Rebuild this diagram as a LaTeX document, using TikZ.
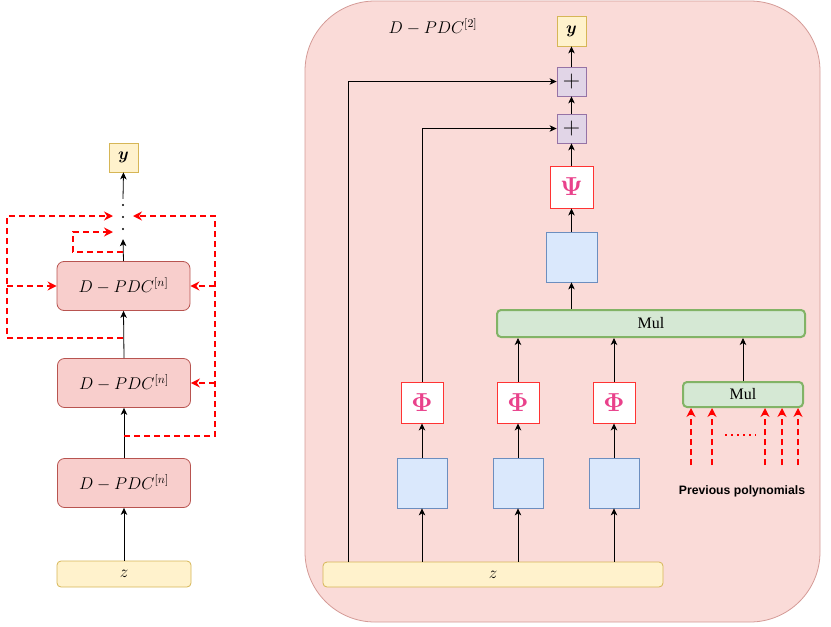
\RequirePackage{fix-cm}
\documentclass[tikz,border=0pt]{standalone}
\usepackage{fontspec}
\usepackage{bm}
\newfontfamily\lsans{Liberation Sans}
\newfontfamily\lserif{Liberation Serif}
\usetikzlibrary{arrows.meta}
\definecolor{yfill}{HTML}{FFF2CC}
\definecolor{ydraw}{HTML}{D6B656}
\definecolor{pfill}{HTML}{F8CECC}
\definecolor{pdraw}{HTML}{B85450}
\definecolor{cfill}{HTML}{FADBD8}
\definecolor{cdraw}{HTML}{D49A96}
\definecolor{vfill}{HTML}{E1D5E7}
\definecolor{vdraw}{HTML}{9673A6}
\definecolor{bfill}{HTML}{DAE8FC}
\definecolor{bdraw}{HTML}{6C8EBF}
\definecolor{gfill}{HTML}{D5E8D4}
\definecolor{gdraw}{HTML}{82B366}
\definecolor{actred}{HTML}{FF3333}
\definecolor{actpink}{HTML}{E9418B}
\begin{document}
\begin{tikzpicture}[x=1pt,y=-1pt,
  ybox/.style={rectangle, fill=yfill, draw=ydraw, line width=0.8pt, inner sep=0pt,
    font=\fontsize{17}{19}\selectfont},
  pdcbox/.style={rectangle, rounded corners=7pt, fill=pfill, draw=pdraw, line width=0.8pt,
    minimum width=133pt, minimum height=49pt, inner sep=0pt, font=\fontsize{17}{19}\selectfont},
  plusbox/.style={rectangle, fill=vfill, draw=vdraw, line width=0.8pt, minimum width=29pt,
    minimum height=29pt, inner sep=0pt, font=\fontsize{24}{24}\selectfont},
  actbox/.style={rectangle, fill=white, draw=actred, line width=0.9pt, minimum width=42pt,
    minimum height=41pt, inner sep=0pt, text=actpink, font=\fontsize{26}{26}\selectfont},
  linbox/.style={rectangle, fill=bfill, draw=bdraw, line width=0.8pt, minimum width=50pt,
    minimum height=50pt, inner sep=0pt},
  mulbox/.style={rectangle, rounded corners=4pt, fill=gfill, draw=gdraw, line width=2pt,
    inner sep=0pt, font=\lserif\fontsize{16}{18}\selectfont},
  arr/.style={-{Stealth[length=7pt,width=6.5pt,inset=2pt]}, line width=0.8pt, draw=black},
  rdash/.style={draw=red, line width=2pt, dash pattern=on 6pt off 4pt},
  rarr/.style={rdash, -{Stealth[length=9pt,width=9pt,inset=3pt]}},
]
\useasboundingbox (0,0) rectangle (831,627);

% ---------- left column ----------
\node[ybox, minimum width=29pt, minimum height=29pt] (ly) at (123.5,157.5) {$\bm{y}$};
\node[minimum width=6pt, minimum height=40pt, inner sep=0pt] (ld) at (123,219) {};
\fill (123,205) circle (1.1pt) (123,217) circle (1.1pt) (123,229) circle (1.1pt);
\node[pdcbox] (b1) at (123.5,286) {$D-PDC^{[n]}$};
\node[pdcbox] (b2) at (124,383) {$D-PDC^{[n]}$};
\node[pdcbox] (b3) at (124,483) {$D-PDC^{[n]}$};
\node[ybox, rounded corners=4pt, minimum width=134pt, minimum height=26pt] (lz) at (124,574) {$z$};

\draw[arr] (lz.north) -- (b3.south);
\draw[arr] (b3.north) -- (b2.south);
\draw[arr] (b2.north) -- (b1.south);
\draw[arr] (b1.north) -- (ld.south);
\draw[arr] (ld.north) -- (ly.south);

\coordinate (lt) at (113,216);
\coordinate (rt) at (133,216);
\coordinate (st) at (113,232);
\coordinate (ls) at (123,338);
\coordinate (rs) at (124,436);
\coordinate (ss) at (123,252);
\draw[rarr] (ls) -- (7,338) -- (7,216) -- (lt);
\draw[rarr] (7,286) -- (b1.west);
\draw[rarr] (ss) -- (73,252) -- (73,232) -- (st);
\draw[rarr] (rs) -- (215,436) -- (215,216) -- (rt);
\draw[rarr] (215,286) -- (b1.east);
\draw[rarr] (215,383) -- (b2.east);

% ---------- right panel ----------
\draw[fill=cfill, draw=cdraw, line width=0.8pt, rounded corners=70pt] (305,1) rectangle (820,622);
\node[font=\fontsize{17}{19}\selectfont] (title) at (433,27) {$D-PDC^{[2]}$};

\node[ybox, minimum width=29pt, minimum height=30pt] (ry) at (571.5,31) {$\bm{y}$};
\node[plusbox] (p1) at (571.5,81.5) {$+$};
\node[plusbox] (p2) at (571.5,128.5) {$+$};
\node[actbox, minimum width=43pt, minimum height=42pt] (psi) at (571.5,187) {$\bm{\Psi}$};
\node[linbox, minimum width=51pt] (lt0) at (571.5,257) {};
\node[mulbox, minimum width=308pt, minimum height=27pt] (mb) at (651,323.5) {Mul};
\node[mulbox, minimum width=120pt, minimum height=25pt] (ms) at (743,394.5) {Mul};

\node[actbox] (phi1) at (422,402.5) {$\bm{\Phi}$};
\node[actbox] (phi2) at (518,402.5) {$\bm{\Phi}$};
\node[actbox] (phi3) at (614,402.5) {$\bm{\Phi}$};
\node[linbox] (l1) at (422,483) {};
\node[linbox] (l2) at (518,483) {};
\node[linbox] (l3) at (614,483) {};
\node[ybox, rounded corners=4pt, minimum width=340pt, minimum height=25pt] (rz) at (493,574.5) {$z$};

\draw[arr] (l1 |- rz.north) -- (l1.south);
\draw[arr] (l2 |- rz.north) -- (l2.south);
\draw[arr] (l3 |- rz.north) -- (l3.south);
\draw[arr] (l1.north) -- (phi1.south);
\draw[arr] (l2.north) -- (phi2.south);
\draw[arr] (l3.north) -- (phi3.south);
\draw[arr] (phi1.north) |- (p2.west);
\coordinate (zl) at (348,562);
\draw[arr] (zl) |- (p1.west);
\draw[arr] (phi2.north) -- (phi2.north |- mb.south);
\draw[arr] (phi3.north) -- (phi3.north |- mb.south);
\draw[arr] (ms.north) -- (ms.north |- mb.south);
\draw[arr] (lt0 |- mb.north) -- (lt0.south);
\draw[arr] (lt0.north) -- (psi.south);
\draw[arr] (psi.north) -- (p2.south);
\draw[arr] (p2.north) -- (p1.south);
\draw[arr] (p1.north) -- (ry.south);

\foreach \x in {691,712,765,782,798} {
  \coordinate (pp\x) at (\x,465);
  \draw[rarr] (pp\x) -- (pp\x |- ms.south);
}
\draw[draw=red, line width=1.6pt, dash pattern=on 1.6pt off 4.4pt] (725,435) -- (756,435);
\node[font=\lsans\bfseries\fontsize{12.2}{14}\selectfont] (prev) at (742,491) {Previous polynomials};
\end{tikzpicture}
\end{document}
